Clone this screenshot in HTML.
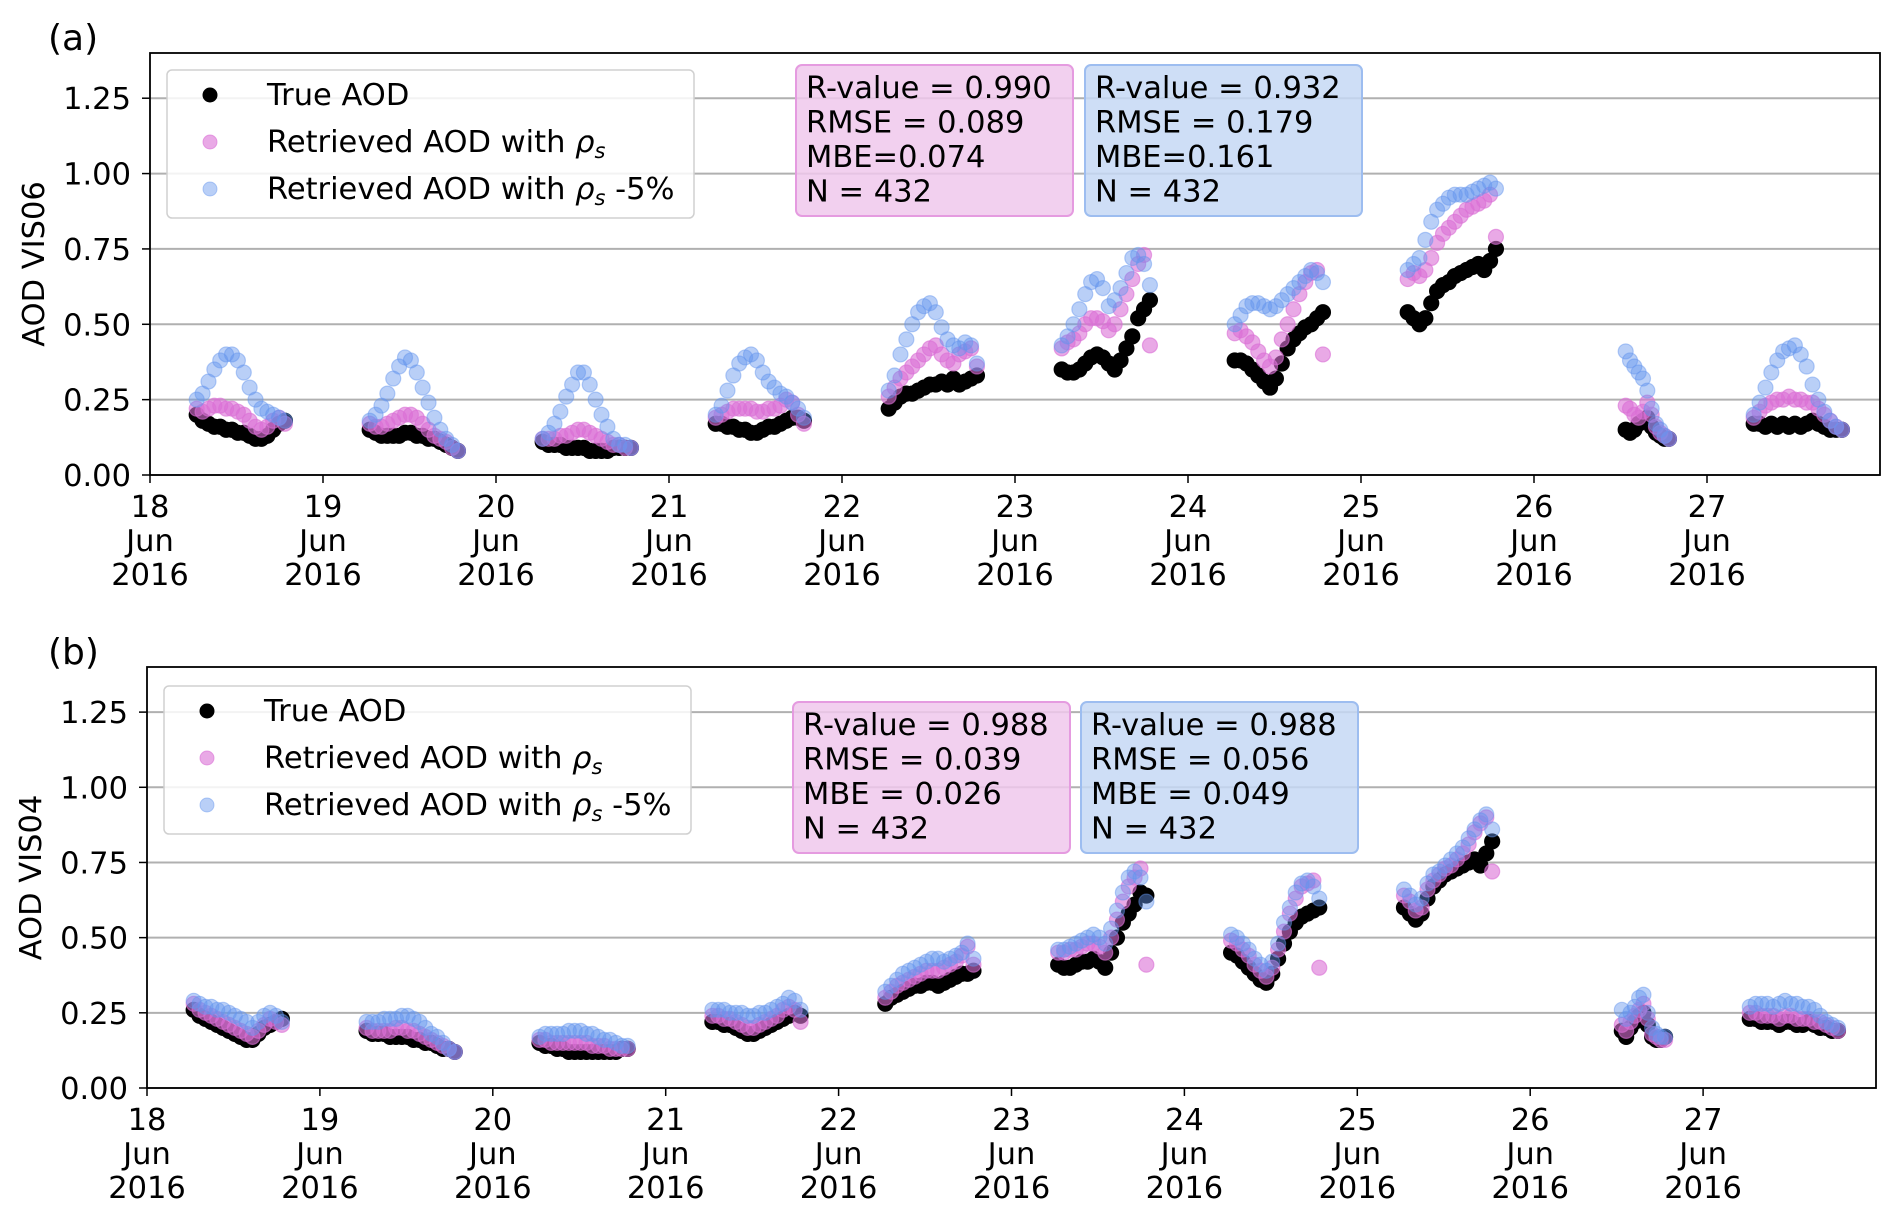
<!DOCTYPE html>
<html><head><meta charset="utf-8">
<style>
html,body{margin:0;padding:0;background:#fff;}
svg{display:block;font-family:"DejaVu Sans","Liberation Sans",sans-serif;}
</style></head>
<body>
<svg id="fig" width="1892" height="1216" viewBox="0 0 1892 1216" xmlns="http://www.w3.org/2000/svg"></svg>
<script>
// ---------- DATA ----------
const dayStarts = [18.27,19.27,20.27,21.27,22.27,23.27,24.27,25.27,26.53,27.27];
const dayEnds   = [18.78,19.78,20.78,21.78,22.78,23.78,24.78,25.78,26.78,27.78];
const yTicks = [0,0.25,0.5,0.75,1.0,1.25];
const yTickLabels = ["0.00","0.25","0.50","0.75","1.00","1.25"];
const xTicks = [18,19,20,21,22,23,24,25,26,27];
const xTickLabels = ["18","19","20","21","22","23","24","25","26","27"];

const aTrue = [
[0.20,0.18,0.17,0.16,0.16,0.15,0.15,0.14,0.14,0.13,0.12,0.12,0.13,0.15,0.17,0.18],
[0.15,0.14,0.13,0.13,0.13,0.13,0.14,0.14,0.13,0.13,0.12,0.12,0.11,0.10,0.09,0.08],
[0.11,0.10,0.10,0.10,0.09,0.09,0.09,0.09,0.08,0.08,0.08,0.08,0.09,0.09,0.09,0.09],
[0.17,0.17,0.16,0.16,0.15,0.15,0.14,0.14,0.15,0.16,0.16,0.17,0.18,0.19,0.19,0.18],
[0.22,0.24,0.26,0.27,0.27,0.28,0.29,0.30,0.30,0.31,0.30,0.32,0.30,0.31,0.32,0.33],
[0.35,0.34,0.34,0.35,0.37,0.39,0.40,0.39,0.37,0.35,0.38,0.42,0.46,0.52,0.55,0.58],
[0.38,0.38,0.37,0.35,0.33,0.31,0.29,0.32,0.37,0.42,0.45,0.47,0.49,0.50,0.52,0.54],
[0.54,0.52,0.50,0.52,0.57,0.61,0.63,0.64,0.66,0.67,0.68,0.69,0.70,0.68,0.71,0.75],
[0.15,0.14,0.15,0.17,0.18,0.19,0.16,0.14,0.13,0.12,0.12],
[0.17,0.17,0.16,0.17,0.16,0.17,0.16,0.17,0.16,0.17,0.18,0.17,0.16,0.15,0.15,0.15]];
const aPink = [
[0.22,0.21,0.22,0.23,0.23,0.22,0.22,0.21,0.20,0.18,0.16,0.15,0.16,0.18,0.19,0.17],
[0.17,0.16,0.16,0.17,0.18,0.19,0.20,0.20,0.19,0.17,0.15,0.13,0.12,0.11,0.09,0.08],
[0.12,0.12,0.12,0.13,0.13,0.14,0.15,0.15,0.14,0.13,0.12,0.11,0.10,0.10,0.09,0.09],
[0.19,0.20,0.21,0.22,0.22,0.22,0.22,0.21,0.21,0.22,0.22,0.23,0.25,0.24,0.20,0.17],
[0.26,0.29,0.32,0.34,0.36,0.38,0.40,0.42,0.43,0.40,0.38,0.37,0.40,0.41,0.42,0.36],
[0.42,0.44,0.45,0.47,0.50,0.52,0.52,0.51,0.48,0.50,0.55,0.60,0.65,0.70,0.73,0.43],
[0.47,0.48,0.46,0.44,0.41,0.38,0.36,0.39,0.45,0.50,0.55,0.60,0.64,0.67,0.68,0.40],
[0.65,0.67,0.66,0.68,0.72,0.77,0.80,0.82,0.84,0.86,0.88,0.89,0.90,0.91,0.93,0.79],
[0.23,0.22,0.20,0.19,0.21,0.24,0.20,0.16,0.14,0.13,0.12],
[0.19,0.21,0.23,0.24,0.25,0.25,0.26,0.25,0.25,0.24,0.24,0.22,0.20,0.18,0.16,0.15]];
const aBlue = [
[0.25,0.27,0.31,0.35,0.38,0.40,0.40,0.38,0.34,0.29,0.25,0.22,0.21,0.20,0.19,0.18],
[0.18,0.20,0.23,0.27,0.32,0.36,0.39,0.38,0.34,0.29,0.24,0.19,0.15,0.12,0.10,0.08],
[0.12,0.14,0.17,0.21,0.26,0.30,0.34,0.34,0.30,0.25,0.20,0.16,0.12,0.10,0.10,0.09],
[0.20,0.23,0.28,0.33,0.37,0.39,0.40,0.38,0.34,0.31,0.29,0.27,0.26,0.24,0.22,0.19],
[0.28,0.33,0.40,0.45,0.50,0.54,0.56,0.57,0.54,0.49,0.45,0.43,0.42,0.44,0.43,0.37],
[0.43,0.46,0.50,0.55,0.60,0.64,0.65,0.62,0.56,0.58,0.62,0.67,0.72,0.73,0.70,0.63],
[0.50,0.53,0.56,0.57,0.57,0.56,0.55,0.56,0.58,0.60,0.62,0.64,0.66,0.68,0.67,0.64],
[0.68,0.70,0.72,0.78,0.84,0.88,0.90,0.92,0.93,0.93,0.93,0.94,0.95,0.96,0.97,0.95],
[0.41,0.38,0.36,0.34,0.32,0.28,0.22,0.17,0.15,0.13,0.12],
[0.20,0.24,0.29,0.34,0.38,0.41,0.42,0.43,0.40,0.36,0.30,0.25,0.21,0.18,0.16,0.15]];

const bTrue = [
[0.26,0.24,0.23,0.22,0.21,0.20,0.19,0.18,0.17,0.16,0.16,0.18,0.20,0.21,0.22,0.23],
[0.19,0.18,0.18,0.18,0.17,0.17,0.17,0.17,0.16,0.16,0.15,0.15,0.14,0.13,0.13,0.12],
[0.15,0.14,0.14,0.13,0.13,0.12,0.12,0.12,0.12,0.12,0.12,0.12,0.12,0.12,0.13,0.13],
[0.22,0.22,0.21,0.21,0.20,0.19,0.18,0.18,0.19,0.20,0.21,0.22,0.23,0.24,0.25,0.24],
[0.28,0.30,0.31,0.32,0.33,0.34,0.34,0.35,0.35,0.34,0.35,0.36,0.37,0.38,0.38,0.39],
[0.41,0.40,0.40,0.41,0.42,0.42,0.43,0.42,0.40,0.45,0.50,0.55,0.58,0.61,0.65,0.64],
[0.45,0.44,0.42,0.40,0.38,0.36,0.35,0.38,0.43,0.48,0.52,0.55,0.57,0.58,0.59,0.60],
[0.60,0.58,0.56,0.58,0.63,0.67,0.69,0.71,0.72,0.73,0.74,0.75,0.76,0.74,0.78,0.82],
[0.19,0.17,0.20,0.22,0.24,0.25,0.21,0.17,0.16,0.16,0.17],
[0.23,0.23,0.22,0.22,0.22,0.21,0.22,0.22,0.21,0.21,0.22,0.21,0.20,0.20,0.19,0.19]];
const bPink = [
[0.28,0.26,0.25,0.24,0.23,0.22,0.21,0.20,0.19,0.18,0.17,0.19,0.21,0.23,0.22,0.21],
[0.20,0.19,0.19,0.19,0.19,0.20,0.20,0.19,0.19,0.18,0.17,0.16,0.15,0.14,0.13,0.12],
[0.16,0.16,0.15,0.15,0.15,0.15,0.15,0.15,0.15,0.14,0.14,0.14,0.13,0.13,0.13,0.13],
[0.24,0.24,0.23,0.23,0.22,0.21,0.20,0.20,0.21,0.22,0.23,0.24,0.26,0.27,0.26,0.22],
[0.30,0.32,0.34,0.35,0.36,0.37,0.38,0.39,0.39,0.39,0.40,0.41,0.42,0.44,0.47,0.41],
[0.45,0.45,0.46,0.46,0.47,0.48,0.48,0.47,0.45,0.50,0.56,0.62,0.67,0.70,0.73,0.41],
[0.49,0.48,0.46,0.44,0.41,0.39,0.37,0.40,0.46,0.52,0.58,0.63,0.67,0.68,0.69,0.40],
[0.64,0.62,0.59,0.60,0.66,0.69,0.71,0.73,0.74,0.76,0.78,0.81,0.85,0.88,0.90,0.72],
[0.21,0.19,0.22,0.24,0.26,0.28,0.23,0.18,0.17,0.16,0.16],
[0.25,0.25,0.24,0.24,0.24,0.23,0.24,0.24,0.23,0.23,0.23,0.22,0.22,0.21,0.20,0.19]];
const bBlue = [
[0.29,0.28,0.27,0.27,0.26,0.26,0.25,0.24,0.23,0.22,0.20,0.22,0.24,0.25,0.24,0.22],
[0.22,0.22,0.22,0.23,0.23,0.23,0.24,0.24,0.23,0.22,0.20,0.18,0.17,0.15,0.13,0.12],
[0.17,0.18,0.18,0.18,0.18,0.19,0.19,0.19,0.18,0.18,0.17,0.16,0.16,0.15,0.14,0.14],
[0.26,0.26,0.26,0.25,0.25,0.25,0.24,0.24,0.25,0.25,0.26,0.27,0.28,0.30,0.29,0.26],
[0.32,0.34,0.36,0.38,0.39,0.40,0.41,0.42,0.43,0.43,0.42,0.43,0.44,0.45,0.48,0.43],
[0.46,0.46,0.47,0.48,0.49,0.50,0.51,0.50,0.48,0.53,0.59,0.65,0.70,0.72,0.70,0.62],
[0.51,0.50,0.48,0.46,0.43,0.41,0.39,0.42,0.48,0.55,0.60,0.65,0.68,0.69,0.67,0.63],
[0.66,0.64,0.61,0.63,0.68,0.71,0.72,0.74,0.76,0.78,0.80,0.83,0.86,0.89,0.91,0.86],
[0.26,0.23,0.25,0.27,0.30,0.31,0.25,0.20,0.18,0.17,0.17],
[0.27,0.28,0.28,0.28,0.27,0.28,0.29,0.28,0.28,0.27,0.27,0.26,0.24,0.22,0.21,0.20]];

const statsA1 = ["R-value = 0.990","RMSE = 0.089","MBE=0.074","N = 432"];
const statsA2 = ["R-value = 0.932","RMSE = 0.179","MBE=0.161","N = 432"];
const statsB1 = ["R-value = 0.988","RMSE = 0.039","MBE = 0.026","N = 432"];
const statsB2 = ["R-value = 0.988","RMSE = 0.056","MBE = 0.049","N = 432"];

// ---------- DRAW ----------
const NS = "http://www.w3.org/2000/svg";
const svg = document.getElementById("fig");
const FS = 30.5;
function mk(tag, attrs, parent){
  const e = document.createElementNS(NS, tag);
  for (const k in attrs) e.setAttribute(k, attrs[k]);
  (parent||svg).appendChild(e);
  return e;
}
function txt(s, attrs, parent){ const t = mk("text", attrs, parent); t.textContent = s; return t; }

function panel(cfg){
  const g = mk("g", {});
  
  
  const L=cfg.left, R=cfg.right, T=cfg.top, B=cfg.bottom;
  const xS = v => L + (v-18)/(28-18)*(R-L);
  const yS = v => B - v/1.4*(B-T);
  yTicks.forEach((v,i)=>{
    const gl = mk("line",{x1:L,x2:R,y1:yS(v),y2:yS(v),stroke:"#b0b0b0","stroke-width":2},g);
    
    
    mk("line",{x1:L-8,x2:L,y1:yS(v),y2:yS(v),stroke:"#000","stroke-width":1.5},g);
    const tl = txt(yTickLabels[i],{x:L-19,y:yS(v)+11,"text-anchor":"end","font-size":FS,fill:"#000"},g);
    
    
  });
  xTicks.forEach((v,i)=>{
    const x = xS(v);
    mk("line",{x1:x,x2:x,y1:B,y2:B+8,stroke:"#000","stroke-width":1.5},g);
    const tl = txt("",{"text-anchor":"middle","font-size":FS,fill:"#000"},g);
    
    
    [xTickLabels[i],"Jun","2016"].forEach((s,j)=>{
      const ts = mk("tspan",{x:x,y:B+42+j*34},tl); ts.textContent=s;
    });
  });
  function series(data, fill, stroke, op, name){
    const sg = mk("g",{},g);
    
    
    data.forEach((vals,d)=>{
      const n = vals.length;
      vals.forEach((v,k)=>{
        const t = dayStarts[d] + (dayEnds[d]-dayStarts[d])*k/(n-1);
        const c = mk("circle",{cx:xS(t),cy:yS(v),r:7.5,fill:fill,"fill-opacity":op,stroke:stroke,"stroke-opacity":op,"stroke-width":1.2},sg);
        
        
      });
    });
  }
  series(cfg.tr,"#000","#000",1,"true-aod-series");
  series(cfg.pk,"#da70d6","#da70d6",0.6,"retrieved-aod-series");
  series(cfg.bl,"#6495ed","#6495ed",0.45,"retrieved-aod-minus5-series");
  const fr = mk("rect",{x:L,y:T,width:R-L,height:B-T,fill:"none",stroke:"#000","stroke-width":1.8},g);
  
  
  const pl = txt(cfg.tag,{x:48,y:cfg.tagY,"font-size":36,fill:"#000"},g);
  
  
  const yl = txt(cfg.ylabel,{x:0,y:0,"font-size":FS,fill:"#000","text-anchor":"middle",transform:`translate(${cfg.ylx},${(T+B)/2}) rotate(-90)`},g);
  
  
  const lg = mk("g",{},g);
  
  
  const lx=cfg.leg[0], ly=cfg.leg[1];
  mk("rect",{x:lx,y:ly,width:527,height:148,rx:5,fill:"#fff","fill-opacity":0.85,stroke:"#d0d0d0","stroke-width":1.5},lg);
  const entries=[["True AOD","#000",1],["Retrieved AOD with ","#da70d6",0.6],["Retrieved AOD with ","#6495ed",0.45]];
  entries.forEach((e,i)=>{
    const cy = ly+25+i*47;
    const le = mk("g",{},lg);
    
    
    mk("circle",{cx:lx+43,cy:cy,r:7,fill:e[1],"fill-opacity":e[2],stroke:e[1],"stroke-opacity":e[2]},le);
    const t = txt(e[0],{x:lx+100,y:cy+10,"font-size":FS,fill:"#000"},le);
    if(i>0){
      const r1 = mk("tspan",{"font-style":"italic"},t); r1.textContent="ρ";
      const r2 = mk("tspan",{"font-size":21,"font-style":"italic",dy:6},t); r2.textContent="s";
      if(i===2){ const r3 = mk("tspan",{dy:-6},t); r3.textContent=" -5%"; }
    }
  });
  [[cfg.s1,cfg.box1,"#f0c8ec","#e59be0","stats-box-retrieved"],[cfg.s2,cfg.box2,"#c6d8f5","#9dbdf0","stats-box-retrieved-minus5"]].forEach(b=>{
    const bg = mk("g",{},g);
    
    
    mk("rect",{x:b[1],y:cfg.boxY,width:277,height:151,rx:6,fill:b[2],"fill-opacity":0.85,stroke:b[3],"stroke-width":2},bg);
    b[0].forEach((s,i)=>{ txt(s,{x:b[1]+10,y:cfg.boxY+33+i*34.5,"font-size":FS,fill:"#000"},bg); });
  });
}

panel({name:"panel-a-vis06",left:150,right:1880,top:53,bottom:475,tag:"(a)",tagY:50,ylabel:"AOD VIS06",ylx:44,
  tr:aTrue,pk:aPink,bl:aBlue,leg:[167,70],s1:statsA1,s2:statsA2,box1:796,box2:1085,boxY:65});
panel({name:"panel-b-vis04",left:147,right:1876,top:667,bottom:1088,tag:"(b)",tagY:664,ylabel:"AOD VIS04",ylx:41,
  tr:bTrue,pk:bPink,bl:bBlue,leg:[164,686],s1:statsB1,s2:statsB2,box1:793,box2:1081,boxY:702});
</script>
</body></html>
